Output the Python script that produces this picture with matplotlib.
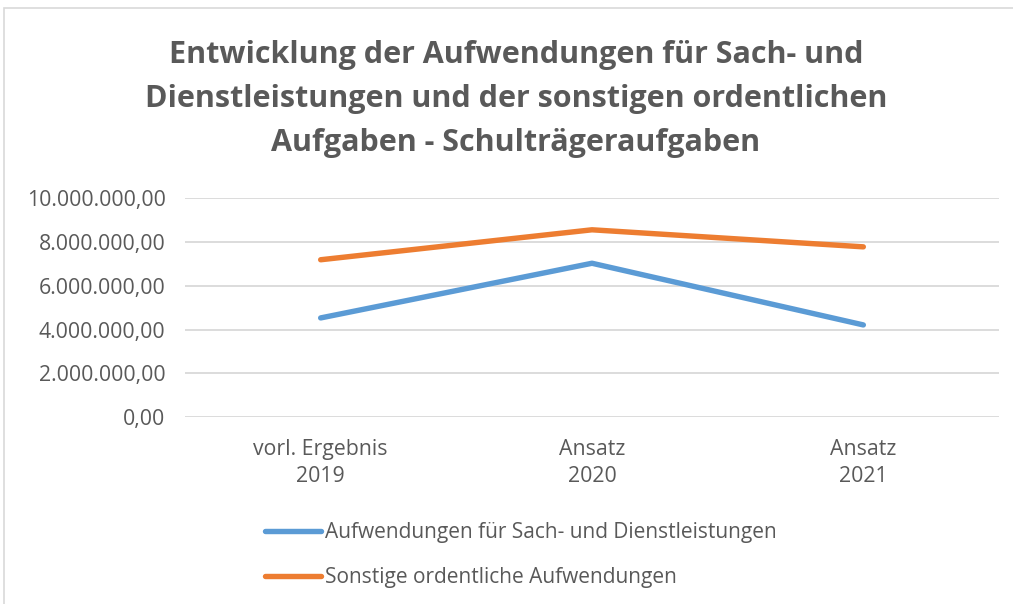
import matplotlib.pyplot as plt
from matplotlib.ticker import FuncFormatter
from matplotlib.patches import Rectangle

# data
categories = ["vorl. Ergebnis\n2019", "Ansatz\n2020", "Ansatz\n2021"]
sach_dienst = [4530000, 7030000, 4210000]
sonstige = [7190000, 8560000, 7780000]
labels = ["Aufwendungen für Sach- und Dienstleistungen",
          "Sonstige ordentliche Aufwendungen"]

blue = "#5B9BD5"
orange = "#ED7D31"
grey = "#595959"

plt.rcParams['font.family'] = ['Open Sans', 'DejaVu Sans']

fig = plt.figure(figsize=(10.13, 6.04), dpi=100)
ax = fig.add_axes([185/1013, 1-417/604, 814/1013, (417-198.3)/604])

x = range(len(categories))
ax.plot(x, sach_dienst, color=blue, lw=3.9, solid_capstyle='round', label=labels[0])
ax.plot(x, sonstige, color=orange, lw=3.9, solid_capstyle='round', label=labels[1])

ax.set_xlim(-0.5, 2.5)
ax.set_ylim(0, 10000000)
ax.set_yticks(range(0, 10000001, 2000000))


def de_fmt(v, pos):
    s = f"{v:,.2f}"
    return s.replace(",", "X").replace(".", ",").replace("X", ".")


ax.yaxis.set_major_formatter(FuncFormatter(de_fmt))
ax.set_xticks(list(x))
ax.set_xticklabels(categories, linespacing=1.42)
ax.tick_params(axis='both', length=0, colors=grey)
ax.tick_params(axis='x', pad=15.5, labelsize=15.3)
ax.tick_params(axis='y', pad=14, labelsize=15.3)
ax.grid(axis='y', color='#D9D9D9', lw=1.3)
ax.set_axisbelow(True)
for s in ax.spines.values():
    s.set_visible(False)

fig.text(516/1013, 1-99/604,
         "Entwicklung der Aufwendungen für Sach- und\n"
         "Dienstleistungen und der sonstigen ordentlichen\n"
         "Aufgaben - Schulträgeraufgaben",
         ha='center', va='center', fontsize=22, fontweight='bold',
         color=grey, linespacing=1.6)

leg = fig.legend(loc='upper left', bbox_to_anchor=(265/1013, 1-522/604),
                 frameon=False, fontsize=15, handlelength=2.7,
                 handletextpad=0.2, labelspacing=1.15,
                 borderpad=0, borderaxespad=0)
for t in leg.get_texts():
    t.set_color(grey)

# chart frame (cut off at the right and bottom)
fig.patches.append(Rectangle((4/1013, -0.1), 1.2, 1-8/604+0.1,
                             transform=fig.transFigure, fill=False,
                             ec='#D9D9D9', lw=1.2))

fig.savefig("out.png", dpi=100)
